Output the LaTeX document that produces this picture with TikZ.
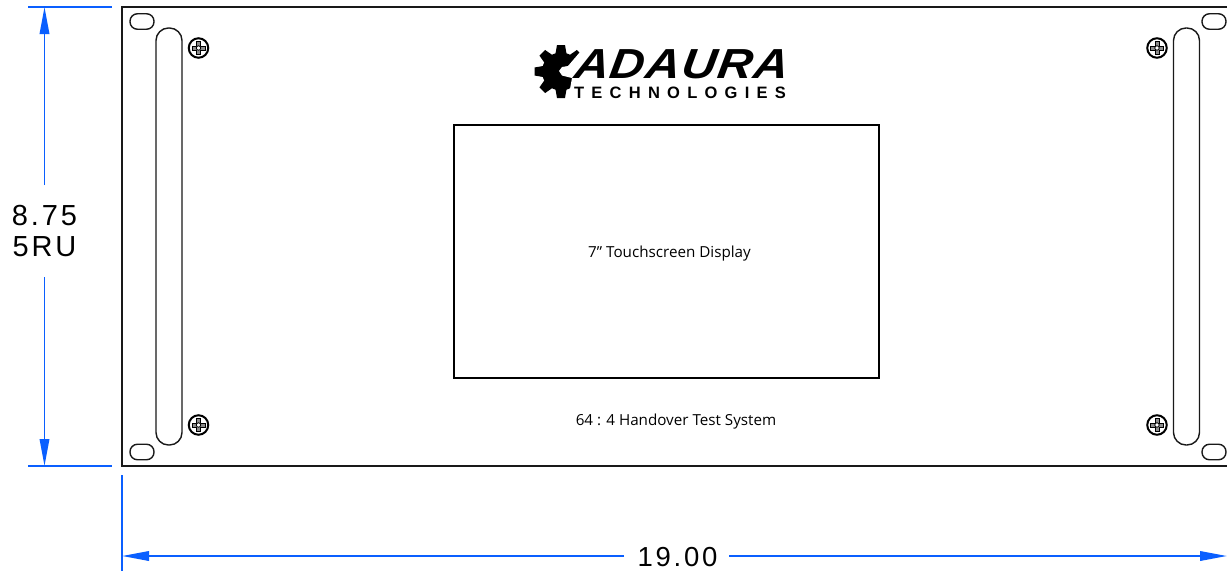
\documentclass[tikz,border=0pt]{standalone}
\usepackage{fontspec}
\setmainfont{Liberation Sans}
\newfontfamily\panelfont{Open Sans}
\newfontfamily\logofont[LetterSpace=3,FakeStretch=1.14,FakeSlant=0.15]{Liberation Sans}
\newfontfamily\subfont[LetterSpace=44]{Liberation Sans}
\newfontfamily\dimfont[LetterSpace=10]{Liberation Sans}
\usetikzlibrary{arrows.meta}
\definecolor{dimblue}{RGB}{10,95,255}
\tikzset{
    panelline/.style={draw=black!90, line width=1.8pt},
    slotbox/.style={draw=black!90, line width=1.4pt, rounded corners=7.5pt, minimum width=24pt, minimum height=15.5pt, inner sep=0pt},
    handlebox/.style={draw=black!90, line width=1.4pt, rounded corners=12.5pt, minimum width=26pt, minimum height=417pt, inner sep=0pt},
    screwbox/.style={circle, draw=black, line width=2pt, minimum size=19.5pt, inner sep=0pt},
    dimline/.style={draw=dimblue, line width=1.9pt},
    dimarrow/.style={dimline, -{Triangle[length=27pt,width=9.5pt]}},
    dimlabel/.style={inner sep=0pt, font=\fontsize{29}{31}\selectfont\dimfont, align=center},
    panellabel/.style={inner sep=0pt, font=\fontsize{15.2}{18}\selectfont\panelfont}
}
\newcommand{\screwcross}[1]{%
    \draw[line width=1pt, fill=black!45] ([xshift=-2pt,yshift=6.5pt]#1.center) -- ++(4pt,0) -- ++(0,-4.5pt) -- ++(4.5pt,0) -- ++(0,-4pt) -- ++(-4.5pt,0) -- ++(0,-4.5pt) -- ++(-4pt,0) -- ++(0,4.5pt) -- ++(-4.5pt,0) -- ++(0,4pt) -- ++(4.5pt,0) -- cycle;
    \draw[line width=.8pt, fill=white] (#1.center) circle (2.2pt);
}
\begin{document}
\begin{tikzpicture}[x=1pt, y=-1pt]
    \useasboundingbox (0,0) rectangle (1227,571);

    % Front panel, runs off on the right
    \draw[panelline] (1227,7) -- (122,7) -- (122,466) -- (1227,466);
    \node[draw=black, line width=1.8pt, minimum width=425pt, minimum height=253pt, inner sep=0pt] (display) at (666.5,251.5) {};

    % Handles
    \node[handlebox] (handleleft) at (169,236.5) {};
    \node[handlebox] (handleright) at (1186.5,236.5) {};

    % Rack slots
    \node[slotbox] (slotlefttop) at (142,21.5) {};
    \node[slotbox] (slotleftbottom) at (142,452) {};
    \node[slotbox] (slotrighttop) at (1214,21.5) {};
    \node[slotbox] (slotrightbottom) at (1214,452) {};

    % Screws
    \node[screwbox] (screwlefttop) at (198.5,48) {};
    \node[screwbox] (screwleftbottom) at (198.5,425) {};
    \node[screwbox] (screwrighttop) at (1157,48) {};
    \node[screwbox] (screwrightbottom) at (1157,425) {};
    \screwcross{screwlefttop}
    \screwcross{screwleftbottom}
    \screwcross{screwrighttop}
    \screwcross{screwrightbottom}

    % Logo
    \coordinate (gear) at (561,71.5);
    \fill[black] (gear) circle (19);
    \foreach \a in {0,45,...,315} {
        \fill[black, rotate around={\a:(gear)}] ([xshift=-6pt,yshift=-15pt]gear) -- ([xshift=-4pt,yshift=-26.5pt]gear) -- ([xshift=4pt,yshift=-26.5pt]gear) -- ([xshift=6pt,yshift=-15pt]gear) -- cycle;
    }
    \fill[white] (586,45) -- (568,66) -- (562,67) -- (559,71) -- (562,75.5) -- (572,78) -- (568,100) -- (612,100) -- (612,45) -- cycle;
    \node[inner sep=0pt, font=\fontsize{42}{42}\selectfont\logofont\bfseries\itshape] (logotext) at (680,64) {ADAURA};
    \node[inner sep=0pt, font=\fontsize{16.5}{16.5}\selectfont\subfont\bfseries] (logosub) at (680,92.5) {TECHNOLOGIES};

    % Texts
    \node[panellabel] (displaytext) at (669.5,254) {7” Touchscreen Display};
    \node[panellabel] (systemtext) at (676,421.5) {64 : 4 Handover Test System};

    % Height dimension
    \coordinate (heighttop) at (44.5,7);
    \coordinate (heightbottom) at (44.5,466);
    \node[dimlabel] (heightlabel) at (44.5,231) {8.75\\5RU};
    \coordinate (heightend) at (44.5,185);
    \coordinate (heightstart) at (44.5,277);
    \draw[dimline] (28,7) -- (112,7);
    \draw[dimline] (28,466) -- (112,466);
    \draw[dimarrow] (heightend) -- (heighttop);
    \draw[dimarrow] (heightstart) -- (heightbottom);

    % Width dimension
    \coordinate (widthleft) at (122,556);
    \coordinate (widthright) at (1227,556);
    \coordinate (widthstart) at (624,556);
    \coordinate (widthend) at (729,556);
    \node[dimlabel, font=\fontsize{27.5}{31}\selectfont\dimfont] (widthlabel) at (677.5,557) {19.00};
    \draw[dimline] (121.8,475) -- (121.8,571);
    \draw[dimarrow] (widthstart) -- (widthleft);
    \draw[dimarrow] (widthend) -- (widthright);
\end{tikzpicture}
\end{document}
